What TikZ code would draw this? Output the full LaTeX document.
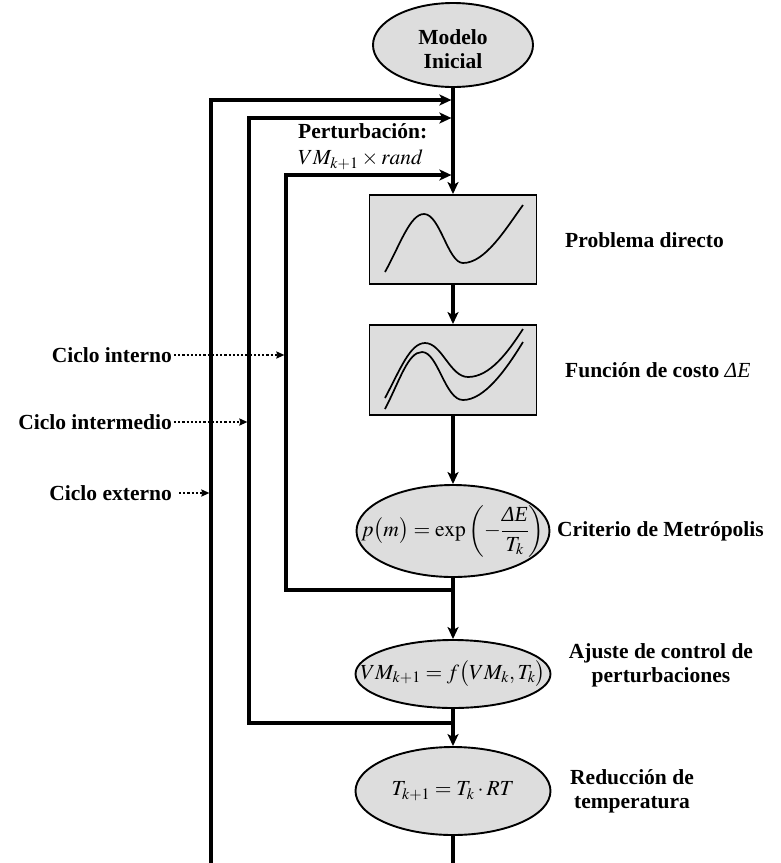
\documentclass[tikz,border=0pt]{standalone}
\usepackage{mathptmx}
\usepackage{fontspec}
\setmainfont{Liberation Serif}
\usetikzlibrary{shapes.geometric,arrows.meta}
\definecolor{fillg}{RGB}{221,221,221}
\newcommand\labfs{\fontsize{21.5}{24}\selectfont}
\newcommand\mfs{\fontsize{21.5}{25}\selectfont}
\begin{document}
\begin{tikzpicture}[x=1pt,y=-1pt,
  flow/.style={line width=3.2pt},
  arr/.style={flow,-{Stealth[length=12pt,width=11pt,inset=3pt]}},
  dotarr/.style={line width=2.2pt,dash pattern=on 2.2pt off 2pt,-{Stealth[length=8pt,width=7pt,inset=1pt]}},
  ell/.style={ellipse,draw,line width=1.9pt,fill=fillg,inner sep=0pt},
  bx/.style={rectangle,draw,line width=1.9pt,fill=fillg,minimum width=167pt,minimum height=89pt,inner sep=0pt},
  curve/.style={line width=1.7pt},
  lab/.style={font=\labfs\bfseries,inner sep=0pt},
  mlab/.style={font=\mfs,inner sep=0pt}]
\useasboundingbox (0,0) rectangle (780,863);

% main nodes
\node[ell,minimum width=160pt,minimum height=84pt,label={[lab,align=center,yshift=-4pt]center:Modelo\\Inicial}] (m0) at (453,45) {};
\node[bx] (pd) at (453,239.5) {};
\node[bx,minimum height=90pt] (fc) at (453,370) {};
\node[ell,minimum width=193pt,minimum height=92pt,label={[mlab]center:$p\bigl(m\bigr)=\exp\left(-\displaystyle\frac{\mbox{\itshape ΔE}}{T_k}\right)$}] (mc) at (453,531) {};
\node[ell,minimum width=195pt,minimum height=68pt,label={[mlab]center:$VM_{k+1}=f\bigl(VM_k,T_k\bigr)$}] (vm) at (453,674) {};
\node[ell,minimum width=195pt,minimum height=88pt,label={[mlab]center:$T_{k+1}=T_k\cdot RT$}] (tr) at (453,791) {};

% curves in boxes
\draw[curve] (385,272) .. controls (400,245) and (410,214) .. (424,214)
  .. controls (440,214) and (448,263) .. (463,263)
  .. controls (485,263) and (505,230) .. (523,205);
\draw[curve] (385,398) .. controls (400,370) and (410,343) .. (425,343)
  .. controls (442,343) and (450,377) .. (468,377)
  .. controls (490,377) and (508,352) .. (523,329);
\draw[curve] (385,409) .. controls (400,380) and (408,352) .. (422,352)
  .. controls (438,352) and (445,400) .. (463,400)
  .. controls (485,400) and (507,368) .. (523,342);

% labels
\node[lab,anchor=west] (lpd) at (565,240) {Problema directo};
\node[lab,anchor=west] (lfc) at (565,370) {Función de costo {\mdseries\itshape ΔE}};
\node[lab,anchor=west] (lmc) at (557,531) {Criterio de Metrópolis};
\node[lab,align=center] (lvm) at (661,665) {Ajuste de control de\\perturbaciones};
\node[lab,align=center] (ltr) at (632,791) {Reducción de\\temperatura};
\node[lab,anchor=west] (lpt) at (298,131) {Perturbación:};
\node[mlab,anchor=west] (lpm) at (298,159.5) {$VM_{k+1}\times rand$};

\node[lab,anchor=east] (ci) at (172,355) {Ciclo interno};
\node[lab,anchor=east] (cm) at (172,422) {Ciclo intermedio};
\node[lab,anchor=east] (ce) at (172,493) {Ciclo externo};

% coordinates
\coordinate (jo) at (451.4,100);
\coordinate (jm) at (451.4,118);
\coordinate (ji) at (451.4,175);
\coordinate (ob) at (211,863);
\coordinate (mcor) at (249,118);
\coordinate (icor) at (286,175);
\coordinate (mbot) at (453,723);
\coordinate (ibot) at (453,590);
\coordinate (endp) at (453,863);
\coordinate (di) at (284.4,355);
\coordinate (dm) at (247.4,422);
\coordinate (de) at (209.4,493);
\coordinate (dex) at (179,493);

% main flow
\draw[arr] (m0.south) -- (pd.north);
\draw[arr] (pd.south) -- (fc.north);
\draw[arr] (fc.south) -- (mc.north);
\draw[arr] (mc.south) -- (vm.north);
\draw[arr] (vm.south) -- (tr.north);
\draw[flow] (tr.south) -- (endp);

% loops
\draw[arr] (ob) |- (jo);
\draw[arr] (mbot) -| (mcor) -- (jm);
\draw[arr] (ibot) -| (icor) -- (ji);

% cycle pointers
\draw[dotarr] (ci.east) ++(2,0) -- (di);
\draw[dotarr] (cm.east) ++(2,0) -- (dm);
\draw[dotarr] (dex) -- (de);
\end{tikzpicture}
\end{document}
